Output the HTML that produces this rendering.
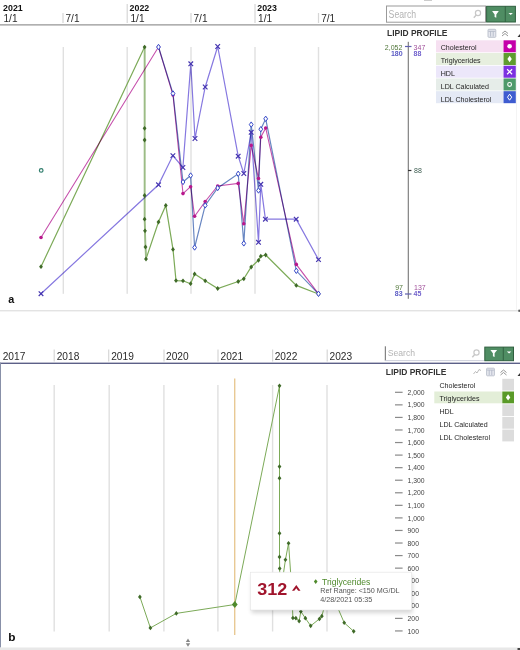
<!DOCTYPE html>
<html><head><meta charset="utf-8"><style>
html,body{margin:0;padding:0;background:#fff;width:520px;height:650px;overflow:hidden;font-family:"Liberation Sans",sans-serif;}
svg{display:block}
</style></head><body>
<svg width="520" height="650" viewBox="0 0 520 650">
<rect x="126.6" y="4" width="1.2" height="19" fill="#d6d6d6"/>
<rect x="254.4" y="4" width="1.2" height="19" fill="#d6d6d6"/>
<rect x="62.4" y="13" width="1.2" height="10" fill="#d6d6d6"/>
<rect x="190.4" y="13" width="1.2" height="10" fill="#d6d6d6"/>
<rect x="317.9" y="13" width="1.2" height="10" fill="#d6d6d6"/>
<text x="3.1" y="10.9" font-family="Liberation Sans, sans-serif" font-size="8.4" font-weight="700" textLength="19.6" lengthAdjust="spacingAndGlyphs" fill="#111">2021</text>
<text x="129.6" y="10.9" font-family="Liberation Sans, sans-serif" font-size="8.4" font-weight="700" textLength="19.6" lengthAdjust="spacingAndGlyphs" fill="#111">2022</text>
<text x="257.3" y="10.9" font-family="Liberation Sans, sans-serif" font-size="8.4" font-weight="700" textLength="19.6" lengthAdjust="spacingAndGlyphs" fill="#111">2023</text>
<text x="3.5" y="21.8" font-family="Liberation Sans, sans-serif" font-size="10" textLength="14" lengthAdjust="spacingAndGlyphs" fill="#2a2a2a">1/1</text>
<text x="65.5" y="21.8" font-family="Liberation Sans, sans-serif" font-size="10" textLength="14" lengthAdjust="spacingAndGlyphs" fill="#2a2a2a">7/1</text>
<text x="130.5" y="21.8" font-family="Liberation Sans, sans-serif" font-size="10" textLength="14" lengthAdjust="spacingAndGlyphs" fill="#2a2a2a">1/1</text>
<text x="193.5" y="21.8" font-family="Liberation Sans, sans-serif" font-size="10" textLength="14" lengthAdjust="spacingAndGlyphs" fill="#2a2a2a">7/1</text>
<text x="258.1" y="21.8" font-family="Liberation Sans, sans-serif" font-size="10" textLength="14" lengthAdjust="spacingAndGlyphs" fill="#2a2a2a">1/1</text>
<text x="321.2" y="21.8" font-family="Liberation Sans, sans-serif" font-size="10" textLength="14" lengthAdjust="spacingAndGlyphs" fill="#2a2a2a">7/1</text>
<rect x="0" y="24.1" width="520" height="1.5" fill="#a8a8a8"/>
<rect x="386.5" y="6" width="99" height="16.2" fill="#fff" stroke="#9a9a9a" stroke-width="1"/>
<text x="388.6" y="17.8" font-family="Liberation Sans, sans-serif" font-size="10" textLength="27.6" lengthAdjust="spacingAndGlyphs" fill="#b4b4b4">Search</text>
<circle cx="478" cy="13" r="2.6" fill="none" stroke="#c8c8c8" stroke-width="1.2"/><path d="M476.2,15 L473.8,17.8" stroke="#c8c8c8" stroke-width="1.4"/>
<rect x="486.6" y="6.3" width="28.8" height="15.7" fill="#4f8d63" stroke="#2f5f3f" stroke-width="1"/>
<rect x="504.8" y="6.3" width="0.9" height="15.7" fill="#2f5f3f"/>
<path d="M492.1,11.1 L498.8,11.1 L496.3,14.4 L496.3,17.8 L494.6,17 L494.6,14.4 Z" fill="#fff"/>
<path d="M508.5,13.1 L512.9,13.1 L510.7,15.1 Z" fill="#fff"/>
<rect x="424" y="0" width="8" height="1" fill="#ccc"/>
<text x="387" y="36.2" font-family="Liberation Sans, sans-serif" font-size="8.4" font-weight="700" textLength="60.5" lengthAdjust="spacingAndGlyphs" fill="#333">LIPID PROFILE</text>
<rect x="488" y="29.3" width="7.8" height="8" rx="0.8" fill="#e6e8ef" stroke="#b8bdca" stroke-width="0.9"/><path d="M488.5,31.3 L495.3,31.3 M490.6,31.5 L490.6,36.5 M493.2,31.5 L493.2,36.5" stroke="#a4aabb" stroke-width="0.7"/>
<path d="M502,33.5 L505,31 L508,33.5 M502,36 L505,33.5 L508,36" stroke="#8a8a8a" stroke-width="0.9" fill="none"/>
<path d="M517.5,37 L520,34 L520,37 Z" fill="#333"/>
<rect x="407.7" y="41.8" width="1.3" height="257" fill="#8a8a8a"/>
<rect x="405" y="45.9" width="6.5" height="1.2" fill="#6060b0"/>
<rect x="405" y="293.4" width="6.5" height="1.2" fill="#6060b0"/>
<rect x="408" y="169.9" width="3.4" height="1.2" fill="#333"/>
<text x="402.4" y="49.6" text-anchor="end" font-family="Liberation Sans, sans-serif" font-size="7" fill="#4f7538">2,052</text>
<text x="402.6" y="56.3" text-anchor="end" font-family="Liberation Sans, sans-serif" font-size="7" font-weight="700" fill="#5a5ac4">180</text>
<text x="413.6" y="50" font-family="Liberation Sans, sans-serif" font-size="7" fill="#a0509a">347</text>
<text x="413.6" y="56.3" font-family="Liberation Sans, sans-serif" font-size="7" font-weight="700" fill="#7060cc">88</text>
<text x="414" y="172.8" font-family="Liberation Sans, sans-serif" font-size="7" fill="#3c5c50">88</text>
<text x="403" y="289.8" text-anchor="end" font-family="Liberation Sans, sans-serif" font-size="7" fill="#4f7538">97</text>
<text x="402.6" y="296.4" text-anchor="end" font-family="Liberation Sans, sans-serif" font-size="7" font-weight="700" fill="#5a5ac4">83</text>
<text x="414" y="289.8" font-family="Liberation Sans, sans-serif" font-size="7" fill="#a0509a">137</text>
<text x="413.6" y="296.4" font-family="Liberation Sans, sans-serif" font-size="7" font-weight="700" fill="#7060cc">45</text>
<rect x="436" y="40.3" width="67" height="12" fill="#f6e0f1"/>
<rect x="503.5" y="40.3" width="12.3" height="12" fill="#c400aa"/>
<text x="440.7" y="49.8" font-family="Liberation Sans, sans-serif" font-size="7.1" fill="#262626">Cholesterol</text>
<circle cx="509.6" cy="46.3" r="2.3" fill="#fff"/>
<rect x="436" y="53.02" width="67" height="12" fill="#e7efdf"/>
<rect x="503.5" y="53.02" width="12.3" height="12" fill="#5e9c2e"/>
<text x="440.7" y="62.76" font-family="Liberation Sans, sans-serif" font-size="7.1" fill="#262626">Triglycerides</text>
<path d="M509.6,55.82 L511.8,59.02 L509.6,62.22 L507.4,59.02 Z" fill="#fff"/>
<rect x="436" y="65.74" width="67" height="12" fill="#ece7fa"/>
<rect x="503.5" y="65.74" width="12.3" height="12" fill="#7b30e0"/>
<text x="440.7" y="75.72" font-family="Liberation Sans, sans-serif" font-size="7.1" fill="#262626">HDL</text>
<path d="M507.1,69.24 L512.1,74.24 M507.1,74.24 L512.1,69.24" stroke="#fff" stroke-width="1.2"/>
<rect x="436" y="78.46" width="67" height="12" fill="#e6ede9"/>
<rect x="503.5" y="78.46" width="12.3" height="12" fill="#4e9a6a"/>
<text x="440.7" y="88.68" font-family="Liberation Sans, sans-serif" font-size="7.1" fill="#262626">LDL Calculated</text>
<circle cx="509.6" cy="84.46" r="1.9" fill="none" stroke="#fff" stroke-width="1.1"/>
<rect x="436" y="91.18" width="67" height="12" fill="#e4e9f5"/>
<rect x="503.5" y="91.18" width="12.3" height="12" fill="#3e5cd0"/>
<text x="440.7" y="101.64" font-family="Liberation Sans, sans-serif" font-size="7.1" fill="#262626">LDL Cholesterol</text>
<path d="M509.6,94.18 L511.7,97.18 L509.6,100.18 L507.5,97.18 Z" fill="none" stroke="#fff" stroke-width="1"/>
<rect x="62.6" y="47" width="1.4" height="246.8" fill="#e0e0e0"/>
<rect x="126.5" y="47" width="1.4" height="246.8" fill="#e0e0e0"/>
<rect x="190.3" y="47" width="1.4" height="246.8" fill="#e0e0e0"/>
<rect x="254.3" y="47" width="1.4" height="246.8" fill="#e0e0e0"/>
<rect x="317.8" y="47" width="1.4" height="246.8" fill="#e0e0e0"/>
<polyline points="41,266.7 144.6,47.1 144.6,128.3 144.6,140 144.6,195.4 144.6,219.2 145,230.8 145.5,247 146,259 158.5,222 165.8,205.4 173,249.4 176,280.6 183,280.8 190.6,283.7 194.6,274 205.2,280.8 217.7,288.5 238.2,281.5 243.8,278.8 251.2,267 258.5,260.3 260.8,256.2 265.7,255 296.3,285.4 318.5,294" fill="none" stroke="#7caa58" stroke-width="1.2"/>
<polyline points="144.6,47.1 144.6,219.2 145,230.8 145.5,247 146,259" fill="none" stroke="#9cbc86" stroke-width="1.8"/>
<g style="mix-blend-mode:multiply">
<polyline points="41,237.5 158.5,47 173,95 183,193.6 190.6,186.7 194.6,216.2 205.2,201.5 217.7,186 238.2,183.4 243.8,223.8 251.2,145.4 258.5,178.5 260.8,137.2 265.7,128 296.3,264.4 318.5,293.8" fill="none" stroke="#c650ac" stroke-width="1.1" style="mix-blend-mode:multiply"/>
<polyline points="41,293.7 158.5,184.8 172.9,155.6 182.9,167.5 190.8,63.8 195,138.5 205.2,87 217.7,46.5 238.2,156.2 243.8,173.5 251.2,132.3 258.5,242.3 260.8,184.3 265.4,219.2 296.2,219.2 318.5,259.6" fill="none" stroke="#8678e0" stroke-width="1.2" style="mix-blend-mode:multiply"/>
<polyline points="158.5,47 173,93.5 183,182 190.6,175.5 194.6,247.5 205.2,205.4 217.7,188 238.2,173.8 243.8,243.4 251.2,124.6 258.5,190.5 260.8,129.2 265.7,118.8 296.3,270.8 318.5,293.8" fill="none" stroke="#6886c2" stroke-width="1.2" style="mix-blend-mode:multiply"/>
</g>
<circle cx="41" cy="237.5" r="1.8" fill="#b8178c"/>
<circle cx="158.5" cy="47" r="1.8" fill="#b8178c"/>
<circle cx="173" cy="95" r="1.8" fill="#b8178c"/>
<circle cx="183" cy="193.6" r="1.8" fill="#b8178c"/>
<circle cx="190.6" cy="186.7" r="1.8" fill="#b8178c"/>
<circle cx="194.6" cy="216.2" r="1.8" fill="#b8178c"/>
<circle cx="205.2" cy="201.5" r="1.8" fill="#b8178c"/>
<circle cx="217.7" cy="186" r="1.8" fill="#b8178c"/>
<circle cx="238.2" cy="183.4" r="1.8" fill="#b8178c"/>
<circle cx="243.8" cy="223.8" r="1.8" fill="#b8178c"/>
<circle cx="251.2" cy="145.4" r="1.8" fill="#b8178c"/>
<circle cx="258.5" cy="178.5" r="1.8" fill="#b8178c"/>
<circle cx="260.8" cy="137.2" r="1.8" fill="#b8178c"/>
<circle cx="265.7" cy="128" r="1.8" fill="#b8178c"/>
<circle cx="296.3" cy="264.4" r="1.8" fill="#b8178c"/>
<circle cx="318.5" cy="293.8" r="1.8" fill="#b8178c"/>
<path d="M41,264.3 L42.92,266.7 L41,269.1 L39.08,266.7 Z" fill="#3f6a28"/>
<path d="M144.6,44.7 L146.52,47.1 L144.6,49.5 L142.68,47.1 Z" fill="#3f6a28"/>
<path d="M144.6,125.9 L146.52,128.3 L144.6,130.7 L142.68,128.3 Z" fill="#3f6a28"/>
<path d="M144.6,137.6 L146.52,140 L144.6,142.4 L142.68,140 Z" fill="#3f6a28"/>
<path d="M144.6,193.0 L146.52,195.4 L144.6,197.8 L142.68,195.4 Z" fill="#3f6a28"/>
<path d="M144.6,216.8 L146.52,219.2 L144.6,221.6 L142.68,219.2 Z" fill="#3f6a28"/>
<path d="M145,228.4 L146.92,230.8 L145,233.2 L143.08,230.8 Z" fill="#3f6a28"/>
<path d="M145.5,244.6 L147.42,247 L145.5,249.4 L143.58,247 Z" fill="#3f6a28"/>
<path d="M146,256.6 L147.92,259 L146,261.4 L144.08,259 Z" fill="#3f6a28"/>
<path d="M158.5,219.6 L160.42,222 L158.5,224.4 L156.58,222 Z" fill="#3f6a28"/>
<path d="M165.8,203.0 L167.72,205.4 L165.8,207.8 L163.88,205.4 Z" fill="#3f6a28"/>
<path d="M173,247.0 L174.92,249.4 L173,251.8 L171.08,249.4 Z" fill="#3f6a28"/>
<path d="M176,278.2 L177.92,280.6 L176,283.0 L174.08,280.6 Z" fill="#3f6a28"/>
<path d="M183,278.4 L184.92,280.8 L183,283.2 L181.08,280.8 Z" fill="#3f6a28"/>
<path d="M190.6,281.3 L192.52,283.7 L190.6,286.1 L188.68,283.7 Z" fill="#3f6a28"/>
<path d="M194.6,271.6 L196.52,274 L194.6,276.4 L192.68,274 Z" fill="#3f6a28"/>
<path d="M205.2,278.4 L207.12,280.8 L205.2,283.2 L203.28,280.8 Z" fill="#3f6a28"/>
<path d="M217.7,286.1 L219.62,288.5 L217.7,290.9 L215.78,288.5 Z" fill="#3f6a28"/>
<path d="M238.2,279.1 L240.12,281.5 L238.2,283.9 L236.28,281.5 Z" fill="#3f6a28"/>
<path d="M243.8,276.4 L245.72,278.8 L243.8,281.2 L241.88,278.8 Z" fill="#3f6a28"/>
<path d="M251.2,264.6 L253.12,267 L251.2,269.4 L249.28,267 Z" fill="#3f6a28"/>
<path d="M258.5,257.9 L260.42,260.3 L258.5,262.7 L256.58,260.3 Z" fill="#3f6a28"/>
<path d="M260.8,253.8 L262.72,256.2 L260.8,258.6 L258.88,256.2 Z" fill="#3f6a28"/>
<path d="M265.7,252.6 L267.62,255 L265.7,257.4 L263.78,255 Z" fill="#3f6a28"/>
<path d="M296.3,283.0 L298.22,285.4 L296.3,287.8 L294.38,285.4 Z" fill="#3f6a28"/>
<path d="M318.5,291.6 L320.42,294 L318.5,296.4 L316.58,294 Z" fill="#3f6a28"/>
<path d="M38.7,291.4 L43.3,296.0 M38.7,296.0 L43.3,291.4" stroke="#4535b0" stroke-width="1.2" fill="none"/>
<path d="M156.2,182.5 L160.8,187.1 M156.2,187.1 L160.8,182.5" stroke="#4535b0" stroke-width="1.2" fill="none"/>
<path d="M170.6,153.3 L175.2,157.9 M170.6,157.9 L175.2,153.3" stroke="#4535b0" stroke-width="1.2" fill="none"/>
<path d="M180.6,165.2 L185.2,169.8 M180.6,169.8 L185.2,165.2" stroke="#4535b0" stroke-width="1.2" fill="none"/>
<path d="M188.5,61.5 L193.1,66.1 M188.5,66.1 L193.1,61.5" stroke="#4535b0" stroke-width="1.2" fill="none"/>
<path d="M192.7,136.2 L197.3,140.8 M192.7,140.8 L197.3,136.2" stroke="#4535b0" stroke-width="1.2" fill="none"/>
<path d="M202.9,84.7 L207.5,89.3 M202.9,89.3 L207.5,84.7" stroke="#4535b0" stroke-width="1.2" fill="none"/>
<path d="M215.4,44.2 L220.0,48.8 M215.4,48.8 L220.0,44.2" stroke="#4535b0" stroke-width="1.2" fill="none"/>
<path d="M235.9,153.9 L240.5,158.5 M235.9,158.5 L240.5,153.9" stroke="#4535b0" stroke-width="1.2" fill="none"/>
<path d="M241.5,171.2 L246.1,175.8 M241.5,175.8 L246.1,171.2" stroke="#4535b0" stroke-width="1.2" fill="none"/>
<path d="M248.9,130.0 L253.5,134.6 M248.9,134.6 L253.5,130.0" stroke="#4535b0" stroke-width="1.2" fill="none"/>
<path d="M256.2,240.0 L260.8,244.6 M256.2,244.6 L260.8,240.0" stroke="#4535b0" stroke-width="1.2" fill="none"/>
<path d="M258.5,182.0 L263.1,186.6 M258.5,186.6 L263.1,182.0" stroke="#4535b0" stroke-width="1.2" fill="none"/>
<path d="M263.1,216.9 L267.7,221.5 M263.1,221.5 L267.7,216.9" stroke="#4535b0" stroke-width="1.2" fill="none"/>
<path d="M293.9,216.9 L298.5,221.5 M293.9,221.5 L298.5,216.9" stroke="#4535b0" stroke-width="1.2" fill="none"/>
<path d="M316.2,257.3 L320.8,261.9 M316.2,261.9 L320.8,257.3" stroke="#4535b0" stroke-width="1.2" fill="none"/>
<path d="M158.5,44.3 L160.4,47 L158.5,49.7 L156.6,47 Z" fill="#fff" stroke="#3448c8" stroke-width="1"/>
<path d="M173,90.8 L174.9,93.5 L173,96.2 L171.1,93.5 Z" fill="#fff" stroke="#3448c8" stroke-width="1"/>
<path d="M183,179.3 L184.9,182 L183,184.7 L181.1,182 Z" fill="#fff" stroke="#3448c8" stroke-width="1"/>
<path d="M190.6,172.8 L192.5,175.5 L190.6,178.2 L188.7,175.5 Z" fill="#fff" stroke="#3448c8" stroke-width="1"/>
<path d="M194.6,244.8 L196.5,247.5 L194.6,250.2 L192.7,247.5 Z" fill="#fff" stroke="#3448c8" stroke-width="1"/>
<path d="M205.2,202.7 L207.1,205.4 L205.2,208.1 L203.3,205.4 Z" fill="#fff" stroke="#3448c8" stroke-width="1"/>
<path d="M217.7,185.3 L219.6,188 L217.7,190.7 L215.8,188 Z" fill="#fff" stroke="#3448c8" stroke-width="1"/>
<path d="M238.2,171.1 L240.1,173.8 L238.2,176.5 L236.3,173.8 Z" fill="#fff" stroke="#3448c8" stroke-width="1"/>
<path d="M243.8,240.7 L245.7,243.4 L243.8,246.1 L241.9,243.4 Z" fill="#fff" stroke="#3448c8" stroke-width="1"/>
<path d="M251.2,121.9 L253.1,124.6 L251.2,127.3 L249.3,124.6 Z" fill="#fff" stroke="#3448c8" stroke-width="1"/>
<path d="M258.5,187.8 L260.4,190.5 L258.5,193.2 L256.6,190.5 Z" fill="#fff" stroke="#3448c8" stroke-width="1"/>
<path d="M260.8,126.5 L262.7,129.2 L260.8,131.9 L258.9,129.2 Z" fill="#fff" stroke="#3448c8" stroke-width="1"/>
<path d="M265.7,116.1 L267.6,118.8 L265.7,121.5 L263.8,118.8 Z" fill="#fff" stroke="#3448c8" stroke-width="1"/>
<path d="M296.3,268.1 L298.2,270.8 L296.3,273.5 L294.4,270.8 Z" fill="#fff" stroke="#3448c8" stroke-width="1"/>
<path d="M318.5,291.1 L320.4,293.8 L318.5,296.5 L316.6,293.8 Z" fill="#fff" stroke="#3448c8" stroke-width="1"/>
<circle cx="41.2" cy="170.4" r="1.8" fill="#fff" stroke="#2f7d6c" stroke-width="1.2"/>
<text x="8.2" y="302.5" font-family="Liberation Sans, sans-serif" font-size="10.8" font-weight="700" fill="#111">a</text>
<rect x="0" y="310.3" width="520" height="1" fill="#d8d8d8"/>
<rect x="53.6" y="349.5" width="1.2" height="12" fill="#d6d6d6"/>
<rect x="108.1" y="349.5" width="1.2" height="12" fill="#d6d6d6"/>
<rect x="163.4" y="349.5" width="1.2" height="12" fill="#d6d6d6"/>
<rect x="217.4" y="349.5" width="1.2" height="12" fill="#d6d6d6"/>
<rect x="272.0" y="349.5" width="1.2" height="12" fill="#d6d6d6"/>
<rect x="326.6" y="349.5" width="1.2" height="12" fill="#d6d6d6"/>
<text x="2.7" y="359.9" font-family="Liberation Sans, sans-serif" font-size="11" textLength="22.6" lengthAdjust="spacingAndGlyphs" fill="#2a2a2a">2017</text>
<text x="56.7" y="359.9" font-family="Liberation Sans, sans-serif" font-size="11" textLength="22.6" lengthAdjust="spacingAndGlyphs" fill="#2a2a2a">2018</text>
<text x="111.2" y="359.9" font-family="Liberation Sans, sans-serif" font-size="11" textLength="22.6" lengthAdjust="spacingAndGlyphs" fill="#2a2a2a">2019</text>
<text x="166.0" y="359.9" font-family="Liberation Sans, sans-serif" font-size="11" textLength="22.6" lengthAdjust="spacingAndGlyphs" fill="#2a2a2a">2020</text>
<text x="220.5" y="359.9" font-family="Liberation Sans, sans-serif" font-size="11" textLength="22.6" lengthAdjust="spacingAndGlyphs" fill="#2a2a2a">2021</text>
<text x="274.7" y="359.9" font-family="Liberation Sans, sans-serif" font-size="11" textLength="22.6" lengthAdjust="spacingAndGlyphs" fill="#2a2a2a">2022</text>
<text x="329.5" y="359.9" font-family="Liberation Sans, sans-serif" font-size="11" textLength="22.6" lengthAdjust="spacingAndGlyphs" fill="#2a2a2a">2023</text>
<rect x="0" y="362.6" width="520" height="1.4" fill="#5c6088"/>
<rect x="0" y="362.6" width="1" height="285" fill="#8890a8"/>
<rect x="385.8" y="346.3" width="98.5" height="14.5" fill="#fff"/><rect x="384.8" y="346.3" width="1.1" height="14.5" fill="#777"/><rect x="385" y="360.2" width="99" height="0.9" fill="#c8cad8"/>
<text x="387.7" y="355.9" font-family="Liberation Sans, sans-serif" font-size="9.5" textLength="27.3" lengthAdjust="spacingAndGlyphs" fill="#b4b4b4">Search</text>
<circle cx="476.5" cy="352.5" r="2.6" fill="none" stroke="#c8c8c8" stroke-width="1.2"/><path d="M474.7,354.5 L472.3,357.3" stroke="#c8c8c8" stroke-width="1.4"/>
<rect x="484.8" y="347.1" width="28.7" height="13.6" fill="#4f8d63" stroke="#2f5f3f" stroke-width="1"/>
<rect x="502.8" y="347.1" width="0.9" height="13.6" fill="#2f5f3f"/>
<path d="M490.4,349.9 L497.1,349.9 L494.6,353.3 L494.6,357 L492.9,356.2 L492.9,353.3 Z" fill="#fff"/>
<path d="M506.8,351.5 L511.4,351.5 L509.1,353.6 Z" fill="#fff"/>
<text x="385.8" y="375.3" font-family="Liberation Sans, sans-serif" font-size="8.4" font-weight="700" textLength="60.5" lengthAdjust="spacingAndGlyphs" fill="#333">LIPID PROFILE</text>
<path d="M473.5,374 L475.5,371.5 L477,373 L479,369.5 L481,370.5" stroke="#aaa" stroke-width="0.8" fill="none"/>
<rect x="486.6" y="368.2" width="7.8" height="7.6" rx="0.8" fill="#e6e8ef" stroke="#b8bdca" stroke-width="0.9"/><path d="M487.1,370.1 L493.9,370.1 M489.2,370.3 L489.2,375 M491.8,370.3 L491.8,375" stroke="#a4aabb" stroke-width="0.7"/>
<path d="M500.5,372.5 L503.5,370 L506.5,372.5 M500.5,375 L503.5,372.5 L506.5,375" stroke="#8a8a8a" stroke-width="0.9" fill="none"/>
<path d="M517.5,376 L520,373 L520,376 Z" fill="#333"/>
<rect x="502.3" y="378.8" width="11.7" height="11.8" fill="#dcdcdc"/>
<text x="439.5" y="388.3" font-family="Liberation Sans, sans-serif" font-size="7.1" fill="#262626">Cholesterol</text>
<rect x="434.3" y="391.5" width="68" height="11.8" fill="#e3eed8"/>
<rect x="502.3" y="391.5" width="11.7" height="11.8" fill="#5a9a28"/>
<path d="M508.1,394.2 L510.3,397.4 L508.1,400.6 L505.9,397.4 Z" fill="#fff"/>
<text x="439.5" y="401.27" font-family="Liberation Sans, sans-serif" font-size="7.1" fill="#262626">Triglycerides</text>
<rect x="502.3" y="404.2" width="11.7" height="11.8" fill="#dcdcdc"/>
<text x="439.5" y="414.24" font-family="Liberation Sans, sans-serif" font-size="7.1" fill="#262626">HDL</text>
<rect x="502.3" y="416.9" width="11.7" height="11.8" fill="#dcdcdc"/>
<text x="439.5" y="427.21" font-family="Liberation Sans, sans-serif" font-size="7.1" fill="#262626">LDL Calculated</text>
<rect x="502.3" y="429.6" width="11.7" height="11.8" fill="#dcdcdc"/>
<text x="439.5" y="440.18" font-family="Liberation Sans, sans-serif" font-size="7.1" fill="#262626">LDL Cholesterol</text>
<rect x="395" y="391.7" width="7.6" height="1.2" fill="#8a8a8a"/>
<text x="407.6" y="394.9" font-family="Liberation Sans, sans-serif" font-size="6.8" fill="#444">2,000</text>
<rect x="395" y="404.26" width="7.6" height="1.2" fill="#8a8a8a"/>
<text x="407.6" y="407.46" font-family="Liberation Sans, sans-serif" font-size="6.8" fill="#444">1,900</text>
<rect x="395" y="416.82" width="7.6" height="1.2" fill="#8a8a8a"/>
<text x="407.6" y="420.02" font-family="Liberation Sans, sans-serif" font-size="6.8" fill="#444">1,800</text>
<rect x="395" y="429.38" width="7.6" height="1.2" fill="#8a8a8a"/>
<text x="407.6" y="432.58" font-family="Liberation Sans, sans-serif" font-size="6.8" fill="#444">1,700</text>
<rect x="395" y="441.94" width="7.6" height="1.2" fill="#8a8a8a"/>
<text x="407.6" y="445.14" font-family="Liberation Sans, sans-serif" font-size="6.8" fill="#444">1,600</text>
<rect x="395" y="454.5" width="7.6" height="1.2" fill="#8a8a8a"/>
<text x="407.6" y="457.7" font-family="Liberation Sans, sans-serif" font-size="6.8" fill="#444">1,500</text>
<rect x="395" y="467.06" width="7.6" height="1.2" fill="#8a8a8a"/>
<text x="407.6" y="470.26" font-family="Liberation Sans, sans-serif" font-size="6.8" fill="#444">1,400</text>
<rect x="395" y="479.62" width="7.6" height="1.2" fill="#8a8a8a"/>
<text x="407.6" y="482.82" font-family="Liberation Sans, sans-serif" font-size="6.8" fill="#444">1,300</text>
<rect x="395" y="492.18" width="7.6" height="1.2" fill="#8a8a8a"/>
<text x="407.6" y="495.38" font-family="Liberation Sans, sans-serif" font-size="6.8" fill="#444">1,200</text>
<rect x="395" y="504.74" width="7.6" height="1.2" fill="#8a8a8a"/>
<text x="407.6" y="507.94" font-family="Liberation Sans, sans-serif" font-size="6.8" fill="#444">1,100</text>
<rect x="395" y="517.3" width="7.6" height="1.2" fill="#8a8a8a"/>
<text x="407.6" y="520.5" font-family="Liberation Sans, sans-serif" font-size="6.8" fill="#444">1,000</text>
<rect x="395" y="529.86" width="7.6" height="1.2" fill="#8a8a8a"/>
<text x="407.6" y="533.06" font-family="Liberation Sans, sans-serif" font-size="6.8" fill="#444">900</text>
<rect x="395" y="542.42" width="7.6" height="1.2" fill="#8a8a8a"/>
<text x="407.6" y="545.62" font-family="Liberation Sans, sans-serif" font-size="6.8" fill="#444">800</text>
<rect x="395" y="554.98" width="7.6" height="1.2" fill="#8a8a8a"/>
<text x="407.6" y="558.18" font-family="Liberation Sans, sans-serif" font-size="6.8" fill="#444">700</text>
<rect x="395" y="567.54" width="7.6" height="1.2" fill="#8a8a8a"/>
<text x="407.6" y="570.74" font-family="Liberation Sans, sans-serif" font-size="6.8" fill="#444">600</text>
<rect x="395" y="580.1" width="7.6" height="1.2" fill="#8a8a8a"/>
<text x="407.6" y="583.3" font-family="Liberation Sans, sans-serif" font-size="6.8" fill="#444">500</text>
<rect x="395" y="592.66" width="7.6" height="1.2" fill="#8a8a8a"/>
<text x="407.6" y="595.86" font-family="Liberation Sans, sans-serif" font-size="6.8" fill="#444">400</text>
<rect x="395" y="605.22" width="7.6" height="1.2" fill="#8a8a8a"/>
<text x="407.6" y="608.42" font-family="Liberation Sans, sans-serif" font-size="6.8" fill="#444">300</text>
<rect x="395" y="617.78" width="7.6" height="1.2" fill="#8a8a8a"/>
<text x="407.6" y="620.98" font-family="Liberation Sans, sans-serif" font-size="6.8" fill="#444">200</text>
<rect x="395" y="630.34" width="7.6" height="1.2" fill="#8a8a8a"/>
<text x="407.6" y="633.54" font-family="Liberation Sans, sans-serif" font-size="6.8" fill="#444">100</text>
<rect x="53.5" y="385" width="1.4" height="246.5" fill="#e0e0e0"/>
<rect x="108.5" y="385" width="1.4" height="246.5" fill="#e0e0e0"/>
<rect x="163.2" y="385" width="1.4" height="246.5" fill="#e0e0e0"/>
<rect x="217.2" y="385" width="1.4" height="246.5" fill="#e0e0e0"/>
<rect x="271.9" y="385" width="1.4" height="246.5" fill="#e0e0e0"/>
<rect x="326.3" y="385" width="1.4" height="246.5" fill="#e0e0e0"/>
<rect x="234" y="378.5" width="1.4" height="256.5" fill="#e8c994"/>
<polyline points="139.9,596.9 150.4,627.9 176.3,613.4 234.8,604.5 279.51,385.87 279.51,466.59 279.51,478.22 279.51,533.3 279.51,556.96 279.68,568.49 279.89,584.59 280.1,596.52 285.44,559.74 288.55,543.24 291.62,586.98 292.9,618 295.89,618.19 299.13,621.08 300.84,611.43 305.36,618.19 310.69,625.85 319.43,618.89 321.82,616.21 324.98,604.48 328.09,597.81 329.07,593.74 331.16,592.55 344.22,622.77 353.69,631.32" fill="none" stroke="#7caa58" stroke-width="1"/>
<path d="M139.9,594.55 L141.78,596.9 L139.9,599.25 L138.02,596.9 Z" fill="#3f6a28"/>
<path d="M150.4,625.55 L152.28,627.9 L150.4,630.25 L148.52,627.9 Z" fill="#3f6a28"/>
<path d="M176.3,611.05 L178.18,613.4 L176.3,615.75 L174.42,613.4 Z" fill="#3f6a28"/>
<path d="M234.8,600.9 L237.68,604.5 L234.8,608.1 L231.92,604.5 Z" fill="#4f8a2c"/>
<path d="M279.51,383.52 L281.39,385.87 L279.51,388.22 L277.63,385.87 Z" fill="#3f6a28"/>
<path d="M279.51,464.24 L281.39,466.59 L279.51,468.94 L277.63,466.59 Z" fill="#3f6a28"/>
<path d="M279.51,475.87 L281.39,478.22 L279.51,480.57 L277.63,478.22 Z" fill="#3f6a28"/>
<path d="M279.51,530.95 L281.39,533.3 L279.51,535.65 L277.63,533.3 Z" fill="#3f6a28"/>
<path d="M279.51,554.61 L281.39,556.96 L279.51,559.31 L277.63,556.96 Z" fill="#3f6a28"/>
<path d="M279.68,566.14 L281.56,568.49 L279.68,570.84 L277.8,568.49 Z" fill="#3f6a28"/>
<path d="M279.89,582.24 L281.77,584.59 L279.89,586.94 L278.01,584.59 Z" fill="#3f6a28"/>
<path d="M280.1,594.17 L281.98,596.52 L280.1,598.87 L278.22,596.52 Z" fill="#3f6a28"/>
<path d="M285.44,557.39 L287.32,559.74 L285.44,562.09 L283.56,559.74 Z" fill="#3f6a28"/>
<path d="M288.55,540.89 L290.43,543.24 L288.55,545.59 L286.67,543.24 Z" fill="#3f6a28"/>
<path d="M291.62,584.63 L293.5,586.98 L291.62,589.33 L289.74,586.98 Z" fill="#3f6a28"/>
<path d="M292.9,615.65 L294.78,618 L292.9,620.35 L291.02,618 Z" fill="#3f6a28"/>
<path d="M295.89,615.84 L297.77,618.19 L295.89,620.54 L294.01,618.19 Z" fill="#3f6a28"/>
<path d="M299.13,618.73 L301.01,621.08 L299.13,623.43 L297.25,621.08 Z" fill="#3f6a28"/>
<path d="M300.84,609.08 L302.72,611.43 L300.84,613.78 L298.96,611.43 Z" fill="#3f6a28"/>
<path d="M305.36,615.84 L307.24,618.19 L305.36,620.54 L303.48,618.19 Z" fill="#3f6a28"/>
<path d="M310.69,623.5 L312.57,625.85 L310.69,628.2 L308.81,625.85 Z" fill="#3f6a28"/>
<path d="M319.43,616.54 L321.31,618.89 L319.43,621.24 L317.55,618.89 Z" fill="#3f6a28"/>
<path d="M321.82,613.86 L323.7,616.21 L321.82,618.56 L319.94,616.21 Z" fill="#3f6a28"/>
<path d="M324.98,602.13 L326.86,604.48 L324.98,606.83 L323.1,604.48 Z" fill="#3f6a28"/>
<path d="M328.09,595.46 L329.97,597.81 L328.09,600.16 L326.21,597.81 Z" fill="#3f6a28"/>
<path d="M329.07,591.39 L330.95,593.74 L329.07,596.09 L327.19,593.74 Z" fill="#3f6a28"/>
<path d="M331.16,590.2 L333.04,592.55 L331.16,594.9 L329.28,592.55 Z" fill="#3f6a28"/>
<path d="M344.22,620.42 L346.1,622.77 L344.22,625.12 L342.34,622.77 Z" fill="#3f6a28"/>
<path d="M353.69,628.97 L355.57,631.32 L353.69,633.67 L351.81,631.32 Z" fill="#3f6a28"/>
<defs><filter id="sh" x="-10%" y="-10%" width="130%" height="140%"><feGaussianBlur stdDeviation="2"/></filter></defs>
<rect x="251.5" y="575" width="161" height="38" fill="#000" opacity="0.16" filter="url(#sh)"/>
<rect x="250.4" y="572.2" width="161.2" height="37.8" fill="#fff" stroke="#e4e4e4" stroke-width="0.6"/>
<text x="257.3" y="595.3" font-family="Liberation Sans, sans-serif" font-size="17.4" font-weight="700" textLength="30" lengthAdjust="spacingAndGlyphs" fill="#a0142c">312</text>
<path d="M292,590.7 L296.3,584.9 L300.5,590.7 L298.2,590.7 L296.3,588.2 L294.3,590.7 Z" fill="#a0142c"/>
<path d="M315.7,579.3 L317.54,581.6 L315.7,583.9 L313.86,581.6 Z" fill="#4f8a2c"/>
<text x="322" y="584.6" font-family="Liberation Sans, sans-serif" font-size="8.6" fill="#4f8a2c">Triglycerides</text>
<text x="320.3" y="592.7" font-family="Liberation Sans, sans-serif" font-size="7.2" fill="#555">Ref Range: &lt;150 MG/DL</text>
<text x="320.3" y="602.4" font-family="Liberation Sans, sans-serif" font-size="7.2" fill="#555">4/28/2021 05:35</text>
<text x="8.3" y="641.2" font-family="Liberation Sans, sans-serif" font-size="11.8" font-weight="700" fill="#0a0a0a">b</text>
<path d="M185.8,642 L188,638.5 L190.2,642 Z M185.8,643.3 L188,646.8 L190.2,643.3 Z" fill="#888"/>
<rect x="0" y="647.5" width="520" height="2.5" fill="#e8e8e8"/>
<rect x="517.5" y="648" width="2.5" height="2" fill="#444"/>
<rect x="518.3" y="309.6" width="1.7" height="2.4" rx="0.8" fill="#555"/>
<rect x="516.2" y="40" width="0.8" height="270" fill="#f2f2f2"/>
</svg>
</body></html>
